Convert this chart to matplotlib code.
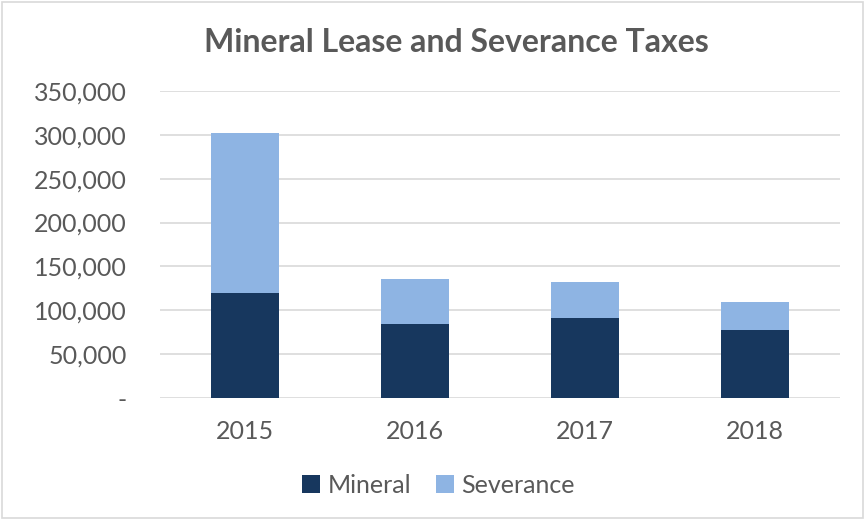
import matplotlib
matplotlib.use("Agg")
import matplotlib.pyplot as plt
from matplotlib.patches import Rectangle
from matplotlib.ticker import FuncFormatter

years = ["2015", "2016", "2017", "2018"]
mineral = [119700, 84400, 91200, 77500]
severance = [182400, 51300, 41000, 31900]

text_color = "#595959"
plt.rcParams["font.family"] = ["Lato", "DejaVu Sans"]

fig = plt.figure(figsize=(8.65, 5.19), dpi=100)
fig.patch.set_facecolor("white")
fig.patches.append(Rectangle((0.002, 0.002), 0.996, 0.994, transform=fig.transFigure,
                             fill=False, edgecolor="#D9D9D9", linewidth=1.2))

ax = fig.add_axes([0.185, 0.233, 0.786, 0.592])
x = range(len(years))
ax.bar(x, mineral, width=0.4, color="#17375E", label="Mineral", zorder=3)
ax.bar(x, severance, width=0.4, bottom=mineral, color="#8EB4E3", label="Severance", zorder=3)

ax.set_ylim(0, 350000)
ax.set_xlim(-0.5, 3.5)
ax.set_yticks(range(0, 350001, 50000))
ax.yaxis.set_major_formatter(FuncFormatter(lambda v, p: "-" if v == 0 else f"{int(v):,}"))
ax.set_xticks(list(x))
ax.set_xticklabels(years)
ax.grid(axis="y", color="#D9D9D9", linewidth=1.2, zorder=0)
for s in ax.spines.values():
    s.set_visible(False)
ax.tick_params(length=0, labelsize=18, colors=text_color)
ax.tick_params(axis="y", pad=24)
ax.tick_params(axis="x", pad=16)

fig.text(0.528, 0.919, "Mineral Lease and Severance Taxes", ha="center", va="center",
         fontsize=23, fontweight="bold", color=text_color)

fig.legend(loc="center", bbox_to_anchor=(0.507, 0.065), ncol=2, frameon=False,
           fontsize=18, labelcolor=text_color, handlelength=0.7, handleheight=0.7,
           handletextpad=0.3, columnspacing=1.0)

fig.savefig("out.png", dpi=100)
